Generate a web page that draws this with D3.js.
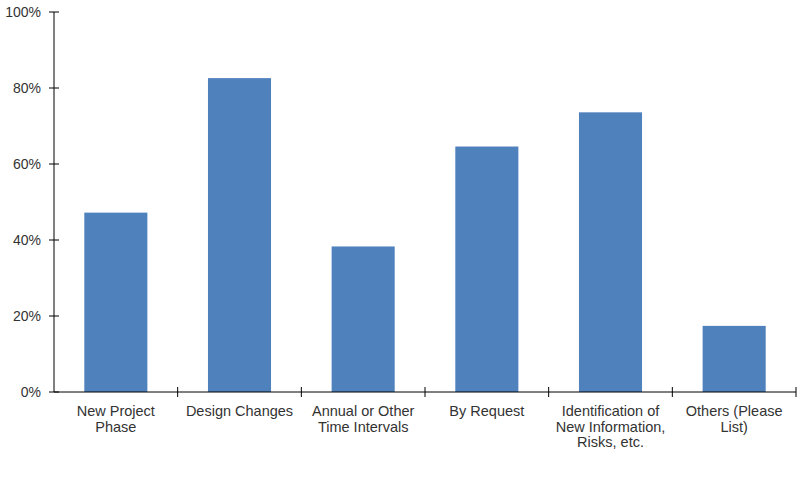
<!DOCTYPE html>
<html>
<head>
<meta charset="utf-8">
<script src="https://cdn.jsdelivr.net/npm/d3@7"></script>
<style>
  body { margin: 0; background: #fff; }
  svg { display: block; font-family: "Liberation Sans", Arial, sans-serif; }
</style>
</head>
<body>
<div id="chart"></div>
<script>
// categories and shares
const categories = [
  ["New Project", "Phase"],
  ["Design Changes"],
  ["Annual or Other", "Time Intervals"],
  ["By Request"],
  ["Identification of", "New Information,", "Risks, etc."],
  ["Others (Please", "List)"]
];
const values = [0.472, 0.826, 0.383, 0.646, 0.736, 0.174];
const yTicks = [0, 0.2, 0.4, 0.6, 0.8, 1];

const width = 804, height = 480;
const margin = { top: 12, right: 8, bottom: 88, left: 54 };

const svg = d3.select("#chart").append("svg")
    .attr("width", width)
    .attr("height", height);

const x = d3.scaleBand()
    .domain(d3.range(categories.length))
    .range([margin.left, width - margin.right])
    .paddingInner(0.49)
    .paddingOuter(0.245);

const xTicks = d3.scaleLinear()
    .domain([0, categories.length])
    .range([margin.left, width - margin.right]);

const y = d3.scaleLinear()
    .domain([0, 1])
    .range([height - margin.bottom, margin.top]);

// bars
svg.selectAll("rect.bar")
  .data(values)
  .enter()
  .append("rect")
    .attr("class", "bar")
    .attr("x", (d, i) => x(i))
    .attr("width", x.bandwidth())
    .attr("y", d => y(d))
    .attr("height", d => y(0) - y(d))
    .attr("fill", "#4F81BD");

// y axis
const yAxis = svg.append("g")
    .attr("transform", `translate(${margin.left},0)`);
yAxis.append("line")
    .attr("x1", 0).attr("x2", 0)
    .attr("y1", y(0)).attr("y2", y(1))
    .attr("stroke", "#000");
yAxis.selectAll("line.tick")
  .data(yTicks)
  .enter()
  .append("line")
    .attr("x1", -5).attr("x2", 5)
    .attr("y1", d => y(d)).attr("y2", d => y(d))
    .attr("stroke", "#000");
yAxis.selectAll("text")
  .data(yTicks)
  .enter()
  .append("text")
    .attr("x", -13)
    .attr("y", d => y(d))
    .attr("dy", "0.35em")
    .attr("text-anchor", "end")
    .attr("font-size", 14)
    .attr("fill", "#333")
    .text(d3.format(".0%"));

// x axis
const xAxis = svg.append("g");
xAxis.append("line")
    .attr("x1", margin.left).attr("x2", width - margin.right)
    .attr("y1", y(0)).attr("y2", y(0))
    .attr("stroke", "#000");
xAxis.selectAll("line.tick")
  .data(d3.range(1, categories.length + 1))
  .enter()
  .append("line")
    .attr("x1", d => xTicks(d)).attr("x2", d => xTicks(d))
    .attr("y1", y(0) - 5).attr("y2", y(0) + 5)
    .attr("stroke", "#000");

const labels = xAxis.selectAll("text")
  .data(categories)
  .enter()
  .append("text")
    .attr("text-anchor", "middle")
    .attr("font-size", 14.5)
    .attr("fill", "#333")
    .attr("x", (d, i) => x(i) + x.bandwidth() / 2)
    .attr("y", y(0) + 24);

labels.selectAll("tspan")
  .data(d => d)
  .enter()
  .append("tspan")
    .attr("x", function() { return this.parentNode.getAttribute("x"); })
    .attr("dy", (d, i) => i === 0 ? 0 : 15.5)
    .text(d => d);
</script>
</body>
</html>
